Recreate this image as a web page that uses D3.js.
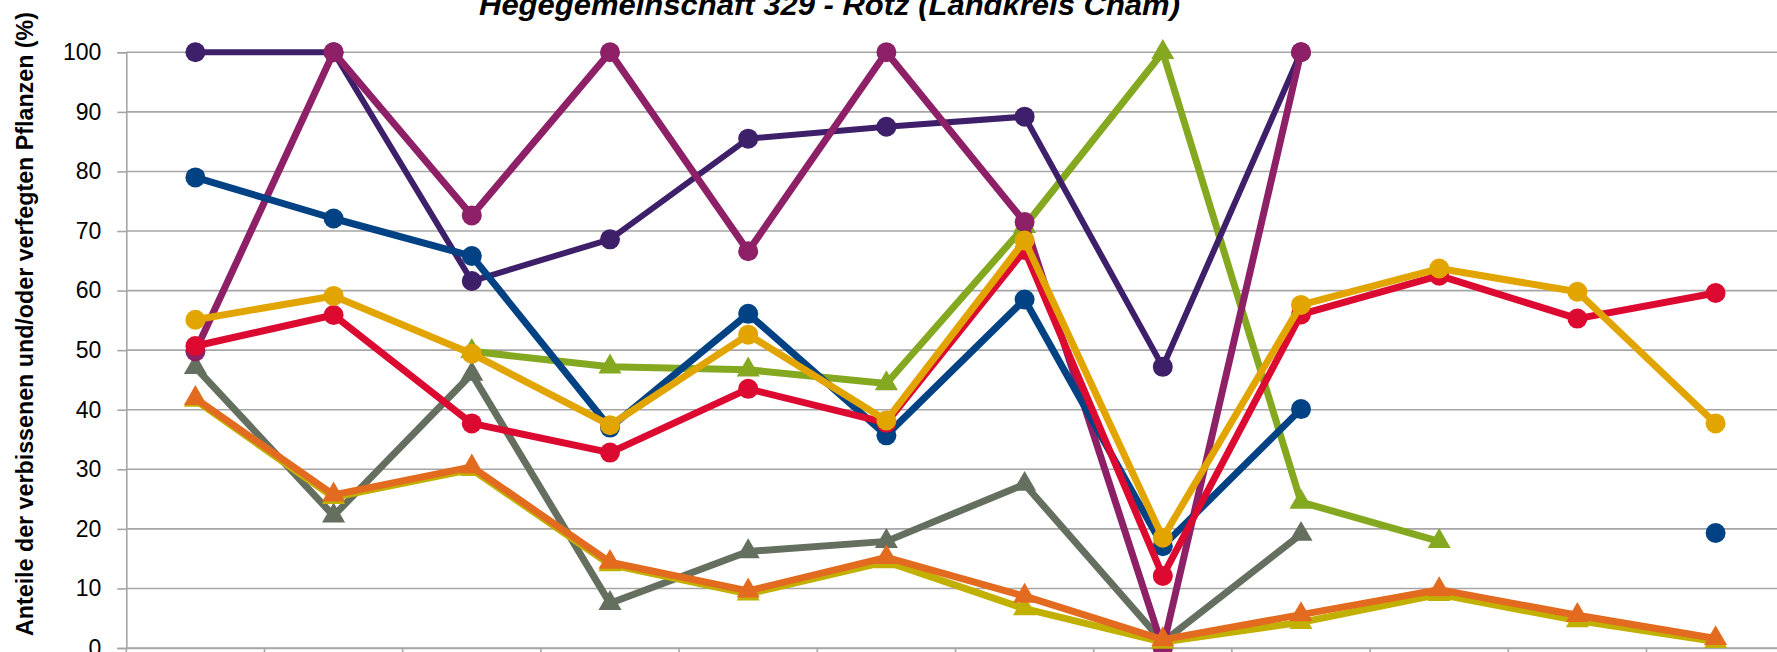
<!DOCTYPE html>
<html>
<head>
<meta charset="utf-8">
<script src="https://cdn.jsdelivr.net/npm/d3@7"></script>
<style>
  body { margin: 0; background: #fff; overflow: hidden; }
  svg { display: block; font-family: 'Liberation Sans', Arial, sans-serif; }
</style>
</head>
<body>
<svg id="chart" width="1777" height="652"></svg>
<script>
// Aufnahmejahre (Achsenbeschriftung liegt ausserhalb des Bildausschnitts)
const categories = ['1991', '1994', '1997', '2000', '2003', '2006', '2009', '2012', '2015', '2018', '2021', '2024']
const yTicks = [0, 10, 20, 30, 40, 50, 60, 70, 80, 90, 100]

// Werte in %, null = kein Wert
const purpleVals = [100, 100, 61.6, 68.6, 85.5, 87.5, 89.2, 47.2, 100, null, null, null]
const plumVals   = [49.8, 100, 72.6, 100, 66.6, 100, 71.5, 0, 100, null, null, null]
const blueVals   = [79, 72.1, 65.8, 37, 56.1, 35.7, 58.5, 17.1, 40.1, null, null, 19.3]
const goldVals   = [55.1, 59.1, 49.4, 37.4, 52.6, 38.2, 68.4, 18.5, 57.6, 63.7, 59.8, 37.7]
const redVals    = [50.7, 55.9, 37.7, 32.8, 43.5, 37.8, 66.8, 12.1, 56, 62.5, 55.3, 59.6]
const greenVals  = [null, null, 49.8, 47.2, 46.7, 44.4, 70.8, 100, 24.5, 17.9, null, null]
const grayVals   = [47.1, 22.2, 46, 7.5, 16.2, 17.9, 27.5, 1, 19.1, null, null, null]
const orangeVals = [41.9, 25.7, 30.4, 14.4, 9.6, 15.2, 8.7, 1.4, 5.6, 9.8, 5.5, 1.6]
const oliveVals  = [41.6, 25.3, 30, 14, 9.1, 14.5, 6.6, 1, 4.3, 9, 4.6, 1.1]

// Zeichenreihenfolge: spaetere Reihen liegen oben
let series = [
    { values: greenVals, color: '#84a81f', marker: 'triangle' },
    { values: grayVals, color: '#656f5f', marker: 'triangle' },
    { values: purpleVals, color: '#3e1f69', marker: 'circle', width: 6 },
    { values: plumVals, color: '#8d2066', marker: 'circle' },
    { values: oliveVals, color: '#c2b000', marker: 'triangle' },
    { values: orangeVals, color: '#e36b1f', marker: 'triangle' },
    { values: blueVals, color: '#004283', marker: 'circle' },
    { values: redVals, color: '#dc0a30', marker: 'circle' },
    { values: goldVals, color: '#e2a500', marker: 'circle' }
]

let svg = d3.select('#chart')

let plotLeft = 126.3,
    plotTop = 52.3,
    plotBottom = 648,
    bandW = 138.2

let x = d3.scaleBand()
    .domain(categories)
    .range([plotLeft, plotLeft + bandW * categories.length])
    .padding(0)

let y = d3.scaleLinear()
    .domain([0, 100])
    .range([plotBottom, plotTop])

// Gitternetz
svg.append('g')
    .selectAll('line')
    .data(yTicks)
    .enter()
    .append('line')
    .attr('x1', plotLeft)
    .attr('x2', x.range()[1])
    .attr('y1', d => y(d))
    .attr('y2', d => y(d))
    .attr('stroke', '#a6a6a6')
    .attr('stroke-width', 1.6)

// y-Achse
let yAxis = svg.append('g')
    .attr('transform', 'translate(' + plotLeft + ',0)')
    .call(d3.axisLeft(y).tickValues(yTicks).tickSize(9).tickPadding(16))
yAxis.selectAll('path, line').attr('stroke', '#a6a6a6').attr('stroke-width', 1.6)
yAxis.selectAll('text')
    .attr('font-size', 23)
    .attr('fill', '#000')
    .attr('font-family', "'Liberation Sans', Arial, sans-serif")

// x-Achse: nur Linie und Teilstriche, Jahreszahlen liegen unterhalb des Ausschnitts
let xAxis = svg.append('g')
    .attr('transform', 'translate(0,' + plotBottom + ')')
    .call(d3.axisBottom(x).tickSizeInner(0).tickSizeOuter(0).tickFormat(''))
xAxis.select('path').attr('stroke', '#a6a6a6').attr('stroke-width', 1.6)
svg.append('g')
    .selectAll('line')
    .data(d3.range(categories.length + 1))
    .enter()
    .append('line')
    .attr('x1', i => plotLeft + i * bandW)
    .attr('x2', i => plotLeft + i * bandW)
    .attr('y1', plotBottom)
    .attr('y2', plotBottom + 9)
    .attr('stroke', '#a6a6a6')
    .attr('stroke-width', 1.6)

// Linien und Marker
let lineGen = d3.line()
    .defined(d => d.v != null)
    .x(d => x(d.c) + x.bandwidth() / 2)
    .y(d => y(d.v))

let triangle = d3.symbol().type(d3.symbolTriangle).size(230)

series.forEach(function (s) {
    let pts = categories.map((c, i) => ({ c: c, v: s.values[i] }))
    let g = svg.append('g')

    g.append('path')
        .attr('d', lineGen(pts))
        .attr('fill', 'none')
        .attr('stroke', s.color)
        .attr('stroke-width', s.width || 7)
        .attr('stroke-linejoin', 'round')

    let defined = pts.filter(d => d.v != null)
    if (s.marker == 'circle') {
        g.selectAll('circle')
            .data(defined)
            .enter()
            .append('circle')
            .attr('cx', d => x(d.c) + x.bandwidth() / 2)
            .attr('cy', d => y(d.v))
            .attr('r', 10)
            .attr('fill', s.color)
    } else {
        g.selectAll('path.mk')
            .data(defined)
            .enter()
            .append('path')
            .attr('class', 'mk')
            .attr('d', triangle)
            .attr('transform', d => 'translate(' + (x(d.c) + x.bandwidth() / 2) + ',' + y(d.v) + ')')
            .attr('fill', s.color)
    }
})

// Titel (oben angeschnitten)
svg.append('text')
    .attr('x', 479)
    .attr('y', 15)
    .attr('font-size', 30)
    .attr('font-weight', 'bold')
    .attr('font-style', 'italic')
    .attr('textLength', 701)
    .attr('lengthAdjust', 'spacingAndGlyphs')
    .text('Hegegemeinschaft 329 - Rötz (Landkreis Cham)')

// y-Achsentitel
svg.append('text')
    .attr('transform', 'translate(33,324) rotate(-90)')
    .attr('text-anchor', 'middle')
    .attr('font-size', 23)
    .attr('font-weight', 'bold')
    .attr('textLength', 624)
    .attr('lengthAdjust', 'spacingAndGlyphs')
    .text('Anteile der verbissenen und/oder verfegten Pflanzen (%)')
</script>
</body>
</html>
